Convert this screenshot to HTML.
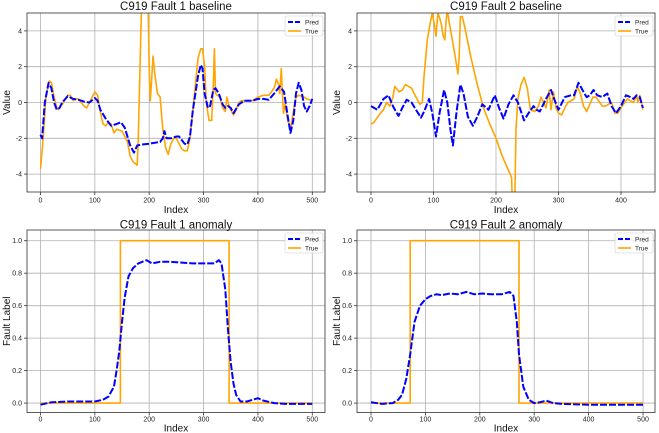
<!DOCTYPE html>
<html><head><meta charset="utf-8"><style>
body{margin:0;background:#fff;}
svg{display:block;font-family:"Liberation Sans",sans-serif;}
</style></head><body>
<svg id="c" width="659" height="433"></svg>
<script>
// Panel 1 data
const p1TrueX=[0,5,10,16,20,25,30,33,40,50,55,60,65,70,80,85,90,100,105,110,115,120,125,130,135,140,150,160,165,170,178,180,183,186,198,200,202,205,207,210,215,220,225,230,235,240,245,250,255,260,265,270,275,280,285,290,295,298,302,305,310,315,318,320,322,325,330,335,340,343,345,350,355,360,365,370,380,390,400,410,420,430,434,438,440,443,445,447,450,455,460,465,470,475,485,490,500];
const p1TrueY=[-3.7,-2,0.3,1.2,1.1,0.3,-0.3,-0.4,-0.1,0.4,0.4,0.1,0.2,0.2,-0.2,-0.3,0,0.6,0.4,-0.5,-1.2,-1.3,-1.1,-1.2,-1.7,-1.5,-1.6,-2.2,-3,-3.3,-3.5,-2,2,5.5,5.5,2,0.1,1.5,2.6,1.7,0.5,0.3,-1.5,-2.5,-2.9,-2.3,-2,-2,-2.3,-2.6,-2.7,-2.7,-2,-0.5,1,2.5,3,3,2,0,-1,-1,1,3,0.5,0.4,0.3,-0.3,-0.5,0.3,0,-0.4,-0.7,-0.4,0,0.1,0.1,0.1,0.3,0.4,0.4,0.8,1.3,1,0.5,1.9,0.5,-0.6,-0.1,-1,-1.5,-0.5,0.3,0.4,0.3,0.2,0.1];
const p1PredX=[0,3,8,15,20,25,30,35,40,50,60,70,80,90,100,105,110,120,130,140,148,155,165,172,178,185,200,210,220,225,228,232,240,250,255,265,270,275,280,285,290,295,298,302,308,312,318,322,328,335,340,345,350,355,365,375,390,400,410,420,430,440,448,455,460,465,470,475,480,485,490,495,500];
const p1PredY=[-1.8,-2,0,1.1,0.8,0,-0.4,-0.3,0,0.35,0.2,0.15,0.05,0,0.25,0.1,-0.4,-0.9,-1.3,-1.2,-1.1,-1.4,-2.4,-2.8,-2.4,-2.35,-2.3,-2.25,-2.2,-2,-1.6,-2,-2,-1.9,-1.9,-2.3,-2.35,-1.9,-0.5,0.5,1.5,2.1,1.9,0.5,-0.3,-0.2,0.7,0.8,0.5,-0.1,-0.3,-0.2,-0.3,-0.6,-0.1,0.1,0.1,0.2,0.2,0.15,0.5,0.9,0.6,-0.8,-1.7,-1,0.5,1.1,0.7,-0.2,-0.5,-0.2,0.2];
// Panel 2 data
const p2TrueX=[0,5,15,20,25,30,35,38,45,50,55,60,65,72,78,82,85,90,95,98,102,104,107,110,113,115,118,120,122,125,130,135,139,141,143,146,150,160,170,180,190,200,210,220,225,226,230,232,235,240,245,250,255,262,268,272,276,280,285,288,292,296,300,305,310,315,325,330,335,340,345,350,355,360,370,375,385,390,395,400,410,420,425,427,430,435];
const p2TrueY=[-1.2,-1.1,-0.6,-0.4,0,-0.2,0.3,0.9,0.6,0.7,1,0.9,0.8,0.3,-0.1,0,1.5,3.5,4.5,5,4.2,3.7,5,4.7,4.3,3.8,3.5,4.5,5.2,4.5,3.5,2.5,1.6,2.5,4.8,4.8,4.2,2.5,1,-0.3,-1.2,-2,-3,-3.8,-4.2,-5.5,-5.5,-1.5,0.2,1,1.4,0.8,-0.4,-0.5,-0.2,0.3,0,-0.3,0.7,-0.4,0.6,-0.3,-0.6,-0.7,-0.3,0,0.2,0.9,0.5,-0.2,-0.5,-0.1,0.3,0.3,-0.2,-0.2,0,-0.6,-0.6,-0.3,0.2,0,0.4,0,0.4,-0.4];
const p2PredX=[0,5,10,20,28,35,44,50,57,65,70,80,85,93,98,104,110,117,122,127,131,137,143,148,155,163,170,178,188,198,205,212,220,228,235,245,252,260,265,270,280,288,293,300,310,320,325,332,340,345,350,356,362,370,378,385,392,400,408,415,420,425,430,435];
const p2PredY=[-0.2,-0.3,-0.4,0.2,0.4,-0.2,-0.75,-0.3,0.15,0,-0.3,-0.85,-0.5,0.2,-0.6,-1.9,-0.5,0.7,0,-1.5,-2.4,-0.5,1,0.5,-0.8,-1.3,-0.8,-0.1,-0.4,0.4,-0.3,-0.9,-0.1,0.4,0,-1,-0.6,-0.2,-0.4,-0.5,0.2,0.7,0.2,-0.4,0.3,0.4,0.4,1.1,0.6,0.3,0.4,0.7,0.4,0.3,0.5,-0.2,-0.6,-0.2,0.4,0.3,0.2,0.4,0.3,-0.3];
// Panel 3 data
const p3PredX=[0,20,50,100,115,125,135,140,145,150,155,162,170,180,195,205,220,240,260,280,300,320,328,333,340,345,350,355,360,368,380,390,400,410,430,450,500];
const p3PredY=[-0.01,0.005,0.01,0.01,0.02,0.04,0.1,0.2,0.32,0.5,0.65,0.78,0.83,0.86,0.88,0.86,0.87,0.87,0.865,0.86,0.86,0.86,0.88,0.86,0.7,0.45,0.25,0.12,0.05,0.01,0.01,0.02,0.03,0.015,0,-0.005,-0.005];
const p3TrueX=[0,147,147,347,347,500];
const p3TrueY=[0,0,1,1,0,0];
// Panel 4 data
const p4PredX=[0,20,40,50,57,65,72,80,90,100,110,120,130,145,160,175,190,205,220,240,255,262,268,272,280,290,300,310,322,335,350,400,500];
const p4PredY=[0.005,-0.005,0,0.02,0.05,0.15,0.3,0.5,0.6,0.64,0.66,0.67,0.665,0.675,0.67,0.685,0.67,0.675,0.67,0.67,0.685,0.66,0.5,0.3,0.1,0.02,0,0.005,0.015,0,-0.005,-0.01,-0.01];
const p4TrueX=[0,72,72,272,272,500];
const p4TrueY=[0,0,1,1,0,0];
const topYTicks=[-4,-2,0,2,4];
const botYTicks=[0,0.2,0.4,0.6,0.8,1.0];
const xTicks500=[0,100,200,300,400,500];
const xTicks400=[0,100,200,300,400];

const NS="http://www.w3.org/2000/svg";
const svg=document.getElementById('c');
function mk(tag,attrs,parent){const e=document.createElementNS(NS,tag);for(const k in attrs)e.setAttribute(k,attrs[k]);(parent||svg).appendChild(e);return e;}

function panel(o){
  const g=mk('g',{});
  
  
  const sx=v=>o.L+(v-o.xmin)/(o.xmax-o.xmin)*(o.R-o.L);
  const sy=v=>o.B-(v-o.ymin)/(o.ymax-o.ymin)*(o.B-o.T);
  const cid='clip'+o.name;
  const cp=mk('clipPath',{id:cid},g);mk('rect',{x:o.L,y:o.T,width:o.R-o.L,height:o.B-o.T},cp);
  o.xt.forEach(t=>{
    const x=sx(t);
    const gl=mk('line',{x1:x,x2:x,y1:o.T,y2:o.B,stroke:'#b0b0b0','stroke-width':0.8},g);
    
    mk('line',{x1:x,x2:x,y1:o.B,y2:o.B+3,stroke:'#333','stroke-width':0.8},g);
    const tx=mk('text',{x:x,y:o.B+o.tickOff,'font-size':7,'text-anchor':'middle',fill:'#222'},g);tx.textContent=t;
    
  });
  o.yt.forEach(t=>{
    const y=sy(t);
    const gl=mk('line',{x1:o.L,x2:o.R,y1:y,y2:y,stroke:'#b0b0b0','stroke-width':0.8},g);
    
    mk('line',{x1:o.L-3,x2:o.L,y1:y,y2:y,stroke:'#333','stroke-width':0.8},g);
    const tx=mk('text',{x:o.L-5,y:y+2.5,'font-size':7,'text-anchor':'end',fill:'#222'},g);tx.textContent=o.fmt(t);
    
  });
  const pts=(X,Y)=>X.map((x,i)=>sx(x).toFixed(1)+','+sy(Y[i]).toFixed(1)).join(' ');
  const lt=mk('polyline',{points:pts(o.tx,o.ty),fill:'none',stroke:'#ffa500','stroke-width':1.6,'stroke-linejoin':'round','clip-path':'url(#'+cid+')'},g);
  
  const lp=mk('polyline',{points:pts(o.px,o.py),fill:'none',stroke:'#0000ff','stroke-width':2,'stroke-dasharray':'7,2','stroke-linejoin':'round','clip-path':'url(#'+cid+')'},g);
  
  mk('rect',{x:o.L,y:o.T,width:o.R-o.L,height:o.B-o.T,fill:'none',stroke:'#333','stroke-width':0.8},g);
  const ti=mk('text',{x:(o.L+o.R)/2,y:o.T-o.titleOff,'font-size':11.5,'text-anchor':'middle',fill:'#111'},g);ti.textContent=o.title;
  
  const xl=mk('text',{x:(o.L+o.R)/2,y:o.B+o.idxOff,'font-size':10,'text-anchor':'middle',fill:'#111'},g);xl.textContent='Index';
  
  const yx=o.L-17, ym=(o.T+o.B)/2;
  const yl=mk('text',{x:yx,y:ym,'font-size':10,'text-anchor':'middle',fill:'#111',transform:'rotate(-90 '+yx+' '+ym+')'},g);yl.textContent=o.ylabel;
  
  // legend
  const lg=mk('g',{},g);
  const lx=o.R-40,ly=o.T+3;
  mk('rect',{x:lx,y:ly,width:38,height:20,rx:2,fill:'#fff','fill-opacity':0.8,stroke:'#ccc','stroke-width':0.6},lg);
  mk('line',{x1:lx+3,x2:lx+16,y1:ly+6,y2:ly+6,stroke:'#0000ff','stroke-width':2,'stroke-dasharray':'5,2'},lg);
  mk('line',{x1:lx+3,x2:lx+16,y1:ly+15,y2:ly+15,stroke:'#ffa500','stroke-width':1.6},lg);
  const a=mk('text',{x:lx+20,y:ly+8.5,'font-size':6.5,fill:'#222'},lg);a.textContent='Pred';
  const b=mk('text',{x:lx+20,y:ly+17.5,'font-size':6.5,fill:'#222'},lg);b.textContent='True';
}
const fTop=v=>String(v), fBot=v=>v.toFixed(1);
const topO={T:13,B:192,ymin:-5,ymax:5,yt:topYTicks,fmt:fTop,ylabel:'Value',tickOff:10.5,idxOff:21,titleOff:3};
const botO={T:230,B:412.5,ylabel:'Fault Label',yt:botYTicks,fmt:fBot,tickOff:9,idxOff:19,titleOff:1.5};
panel(Object.assign({},topO,{name:'fault1-baseline',title:'C919 Fault 1 baseline',L:27,R:325,xmin:-24.8,xmax:523.4,xt:xTicks500,tx:p1TrueX,ty:p1TrueY,px:p1PredX,py:p1PredY}));
panel(Object.assign({},topO,{name:'fault2-baseline',title:'C919 Fault 2 baseline',L:357,R:655,xmin:-22.4,xmax:454.4,xt:xTicks400,tx:p2TrueX,ty:p2TrueY,px:p2PredX,py:p2PredY}));
panel(Object.assign({},botO,{name:'fault1-anomaly',title:'C919 Fault 1 anomaly',L:27,R:325,xmin:-24.8,xmax:523.4,ymin:-0.058,ymax:1.066,xt:xTicks500,tx:p3TrueX,ty:p3TrueY,px:p3PredX,py:p3PredY}));
panel(Object.assign({},botO,{name:'fault2-anomaly',title:'C919 Fault 2 anomaly',L:357,R:655,xmin:-25.7,xmax:522,ymin:-0.058,ymax:1.066,xt:xTicks500,tx:p4TrueX,ty:p4TrueY,px:p4PredX,py:p4PredY}));
</script>
</body></html>
